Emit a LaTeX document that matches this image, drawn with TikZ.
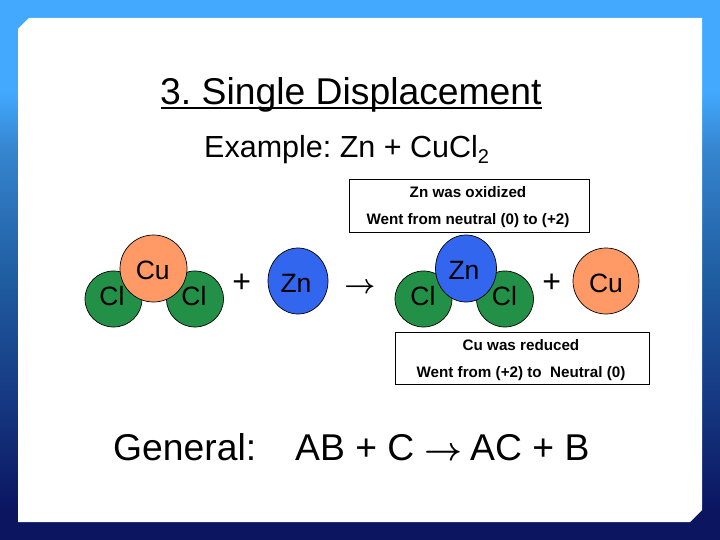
\documentclass[tikz,border=0pt]{standalone}
\usepackage{fix-cm}
\usepackage{fontspec}
\setmainfont{Liberation Sans}
\definecolor{skyblue}{HTML}{43A9FF}
\definecolor{midblueA}{HTML}{3585CF}
\definecolor{midblueB}{HTML}{1F5CA0}
\definecolor{midblueC}{HTML}{15357F}
\definecolor{navyblue}{HTML}{0B1560}
\definecolor{atomgreen}{HTML}{229147}
\definecolor{atomorange}{HTML}{FF9966}
\definecolor{atomblue}{HTML}{3366EE}
\newcommand{\fs}[1]{\fontsize{#1}{#1}\selectfont}
\tikzset{
  atom/.style={draw=black,line width=0.7pt,ellipse,inner sep=0pt},
  atomtext/.style={inner sep=0pt,anchor=base,font=\fs{26.5},text=black},
  notebox/.style={draw=black,fill=white,line width=0.8pt,inner sep=0pt},
  notetext/.style={inner sep=0pt,anchor=base,font=\fs{15.2}\bfseries},
  symbol/.style={inner sep=0pt,anchor=base},
  bigtext/.style={inner sep=0pt,anchor=base west,font=\fs{37.3}},
}
\usetikzlibrary{shapes.geometric}
\frenchspacing
\begin{document}
\begin{tikzpicture}[x=1pt,y=-1pt]
\useasboundingbox (0,0) rectangle (720,540);
% background
\fill[skyblue] (0,0) rectangle (720,90.5);
\shade[top color=skyblue,bottom color=midblueA] (0,90) rectangle (720,150.5);
\shade[top color=midblueA,bottom color=midblueB] (0,150) rectangle (720,280.5);
\shade[top color=midblueB,bottom color=midblueC] (0,280) rectangle (720,410.5);
\shade[top color=midblueC,bottom color=navyblue] (0,410) rectangle (720,510.5);
\fill[navyblue] (0,510) rectangle (720,540);
% panel
\fill[white] (29,18) -- (702,18) -- (702,510) -- (690,522) -- (18,522) -- (18,29) -- cycle;
% title
\node[bigtext] (title) at (160,104.5) {3. Single Displacement};
\draw[line width=1.8pt] (160.5,108.3) -- (542,108.3);
\node[inner sep=0pt,anchor=base west,font=\fs{30.5}] (example) at (204,157.5) {Example: Zn + CuCl\raisebox{-0.2em}{\fs{20}2}};
% notes
\node[notebox,minimum width=240pt,minimum height=53pt] (boxzn) at (469,205.5) {};
\node[notetext] (znA) at (468,198) {Zn was oxidized};
\node[notetext] (znB) at (468,225) {Went from neutral (0) to (+2)};
\node[notebox,minimum width=254pt,minimum height=52pt] (boxcu) at (522,358) {};
\node[notetext] (cuA) at (521,350) {Cu was reduced};
\node[notetext] (cuB) at (521,377) {Went from (+2) to\ \ Neutral (0)};
% left molecule
\node[atom,fill=atomgreen,minimum width=57pt,minimum height=56pt] (cla) at (113.5,299) {};
\node[atom,fill=atomgreen,minimum width=57pt,minimum height=56pt] (clb) at (195,299) {};
\node[atom,fill=atomorange,minimum width=67pt,minimum height=67pt] (cua) at (153.5,268.5) {};
\node[atomtext] (tcla) at (112,305) {Cl};
\node[atomtext] (tclb) at (194,305) {Cl};
\node[atomtext] (tcua) at (152.7,279) {Cu};
\node[symbol,font=\fs{32}] (plusa) at (241.7,292) {+};
\node[atom,fill=atomblue,minimum width=60pt,minimum height=66pt] (zna) at (298,281) {};
\node[atomtext] (tzna) at (296,292) {Zn};
\node[symbol,font=\fs{27}\boldmath] (arrowa) at (360,293) {$\rightarrow$};
% right molecule
\node[atom,fill=atomgreen,minimum width=57pt,minimum height=56pt] (clc) at (423.5,299) {};
\node[atom,fill=atomgreen,minimum width=57pt,minimum height=56pt] (cld) at (505,299) {};
\node[atom,fill=atomblue,minimum width=61pt,minimum height=67pt] (znb) at (466,268.5) {};
\node[atomtext] (tclc) at (423,305) {Cl};
\node[atomtext] (tcld) at (504.5,305) {Cl};
\node[atomtext] (tznb) at (464,279) {Zn};
\node[symbol,font=\fs{32}] (plusb) at (551.7,292) {+};
\node[atom,fill=atomorange,minimum width=66pt,minimum height=66pt] (cub) at (606,281) {};
\node[atomtext] (tcub) at (606,292) {Cu};
% general
\node[bigtext] (gen) at (113,460) {General:};
\node[bigtext] (genl) at (295,460) {AB + C};
\node[symbol,font=\fs{33}\boldmath] (arrowb) at (443,460.5) {$\rightarrow$};
\node[bigtext] (genr) at (470,460) {AC + B};
\end{tikzpicture}
\end{document}
